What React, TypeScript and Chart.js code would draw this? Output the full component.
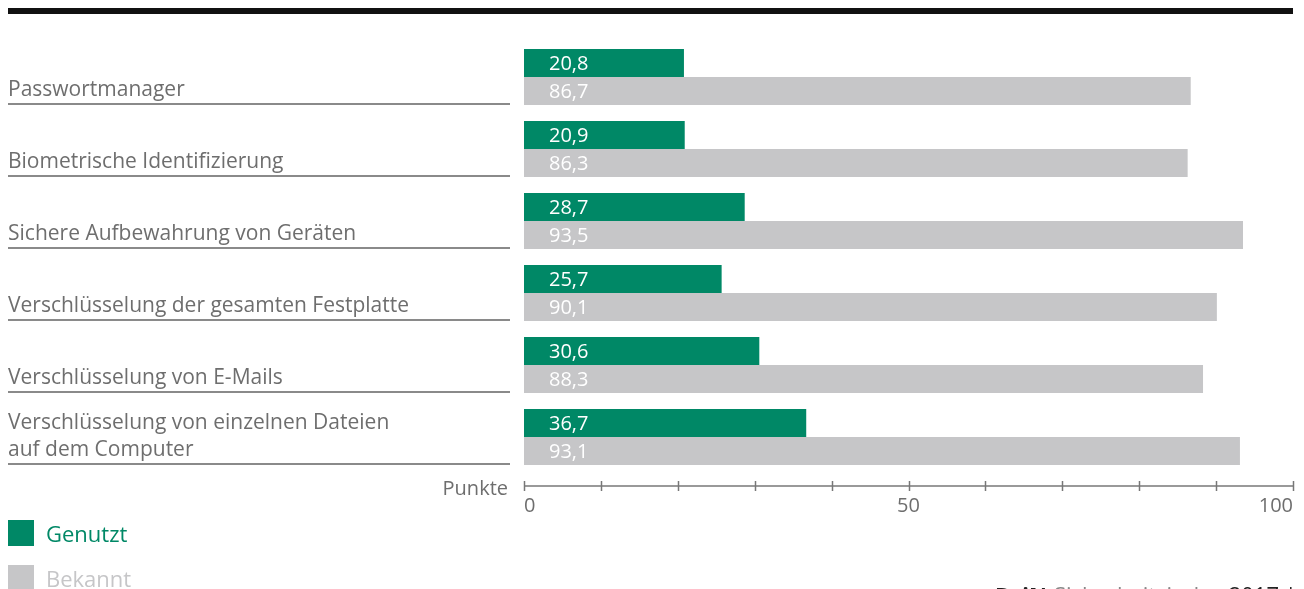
import React, { useEffect, useRef } from "react";
import { Chart, registerables } from "chart.js";

Chart.register(...registerables);

const categories: string[][] = [
  ["Passwortmanager"],
  ["Biometrische Identifizierung"],
  ["Sichere Aufbewahrung von Geräten"],
  ["Verschlüsselung der gesamten Festplatte"],
  ["Verschlüsselung von E-Mails"],
  ["Verschlüsselung von einzelnen Dateien", "auf dem Computer"],
];
const genutzt = [20.8, 20.9, 28.7, 25.7, 30.6, 36.7];
const bekannt = [86.7, 86.3, 93.5, 90.1, 88.3, 93.1];
const seriesNames = ["Genutzt", "Bekannt"];
const xTickLabels = [0, 50, 100];
const axisTitle = "Punkte";

const GREEN = "#008866";
const GRAY = "#c6c6c8";
const TEXT = "#6e6e6e";
const FONT = "'Open Sans', sans-serif";

const fmt = (v: number) => v.toFixed(1).replace(".", ",");

const decorPlugin = {
  id: "decor",
  afterDatasetsDraw(chart: any) {
    const ctx = chart.ctx;
    const xs = chart.scales.x;
    ctx.save();
    ctx.font = `20px ${FONT}`;
    ctx.fillStyle = "#ffffff";
    ctx.textAlign = "left";
    ctx.textBaseline = "middle";
    chart.data.datasets.forEach((ds: any, di: number) => {
      const meta = chart.getDatasetMeta(di);
      meta.data.forEach((bar: any, i: number) => {
        ctx.fillText(fmt(ds.data[i]), xs.getPixelForValue(0) + 25, bar.y + 1);
      });
    });
    ctx.restore();
  },
  afterDraw(chart: any) {
    const ctx = chart.ctx;
    const xs = chart.scales.x;
    const area = chart.chartArea;
    ctx.save();
    // top black rule
    ctx.fillStyle = "#111111";
    ctx.fillRect(0, 0, xs.getPixelForValue(100), 6);

    // underlines under category labels
    const meta = chart.getDatasetMeta(1);
    ctx.strokeStyle = "#8a8a8a";
    ctx.lineWidth = 2;
    meta.data.forEach((bar: any) => {
      const y = Math.round(bar.y + bar.height / 2) - 1;
      ctx.beginPath();
      ctx.moveTo(0, y);
      ctx.lineTo(area.left - 14, y);
      ctx.stroke();
    });

    // x axis line and ticks
    const ay = area.bottom + 13;
    ctx.strokeStyle = "#777777";
    ctx.lineWidth = 1.5;
    ctx.beginPath();
    ctx.moveTo(xs.getPixelForValue(0), ay);
    ctx.lineTo(xs.getPixelForValue(100), ay);
    ctx.stroke();
    xs.ticks.forEach((t: any) => {
      const x = Math.round(xs.getPixelForValue(t.value)) + 0.5;
      ctx.beginPath();
      ctx.moveTo(x, ay - 5);
      ctx.lineTo(x, ay + 5);
      ctx.stroke();
    });

    // axis title
    ctx.fillStyle = TEXT;
    ctx.font = `20px ${FONT}`;
    ctx.textAlign = "right";
    ctx.textBaseline = "alphabetic";
    ctx.fillText(axisTitle, xs.getPixelForValue(0) - 16, ay + 9);

    // legend
    const colors = [GREEN, GRAY];
    const legendTop = [512, 557];
    chart.data.datasets.forEach((ds: any, i: number) => {
      ctx.fillStyle = colors[i];
      ctx.fillRect(0, legendTop[i], 26, 26);
      ctx.font = `22px ${FONT}`;
      ctx.textAlign = "left";
      ctx.textBaseline = "alphabetic";
      ctx.fillText(ds.label, 38, legendTop[i] + 22);
    });

    // source footer (cut off by the page bottom)
    ctx.textAlign = "left";
    let fx = 987;
    const fy = 595;
    const parts: [string, string, string][] = [
      ["DsiN", "#222222", "bold"],
      ["-Sicherheitsindex ", "#888888", "normal"],
      ["2017 | 28", "#222222", "normal"],
    ];
    parts.forEach(([txt, col, w]) => {
      ctx.font = `${w} 22px ${FONT}`;
      ctx.fillStyle = col;
      ctx.fillText(txt, fx, fy);
      fx += ctx.measureText(txt).width;
    });
    ctx.restore();
  },
};

export default function App() {
  const ref = useRef<HTMLCanvasElement | null>(null);
  useEffect(() => {
    if (!ref.current) return;
    const chart = new Chart(ref.current, {
      type: "bar",
      data: {
        labels: categories.map((c) => c.join(" ")),
        datasets: [
          { label: seriesNames[0], data: genutzt, backgroundColor: GREEN },
          { label: seriesNames[1], data: bekannt, backgroundColor: GRAY },
        ],
      },
      options: {
        indexAxis: "y",
        animation: false,
        responsive: true,
        maintainAspectRatio: false,
        layout: { padding: { top: 33, right: 3, bottom: 0, left: 0 } },
        datasets: { bar: { barPercentage: 1, categoryPercentage: 56 / 72 } },
        plugins: { legend: { display: false }, tooltip: { enabled: false } },
        scales: {
          x: {
            min: 0,
            max: 100,
            grid: { display: false, drawTicks: false },
            border: { display: false },
            afterFit: (s: any) => {
              s.height = 116;
              s.paddingLeft = 0;
              s.paddingRight = 0;
            },
            ticks: {
              stepSize: 10,
              autoSkip: false,
              maxRotation: 0,
              align: "inner",
              padding: 21,
              color: TEXT,
              font: { family: FONT, size: 20 },
              callback: (v: any) => (xTickLabels.includes(Number(v)) ? String(v) : ""),
            },
          },
          y: {
            grid: { display: false, drawTicks: false },
            border: { display: false },
            afterFit: (s: any) => {
              s.width = 516;
              s.paddingTop = 0;
              s.paddingBottom = 0;
            },
            ticks: {
              autoSkip: false,
              crossAlign: "far",
              color: TEXT,
              font: { family: FONT, size: 21, lineHeight: 27 / 21 },
              callback: (_v: any, i: number) =>
                categories[i].length === 1 ? ["", categories[i][0]] : categories[i],
            },
          },
        },
      },
      plugins: [decorPlugin],
    });
    return () => chart.destroy();
  }, []);
  return (
    <div style={{ position: "relative", width: 1288, height: 581 }}>
      <canvas ref={ref} />
    </div>
  );
}
